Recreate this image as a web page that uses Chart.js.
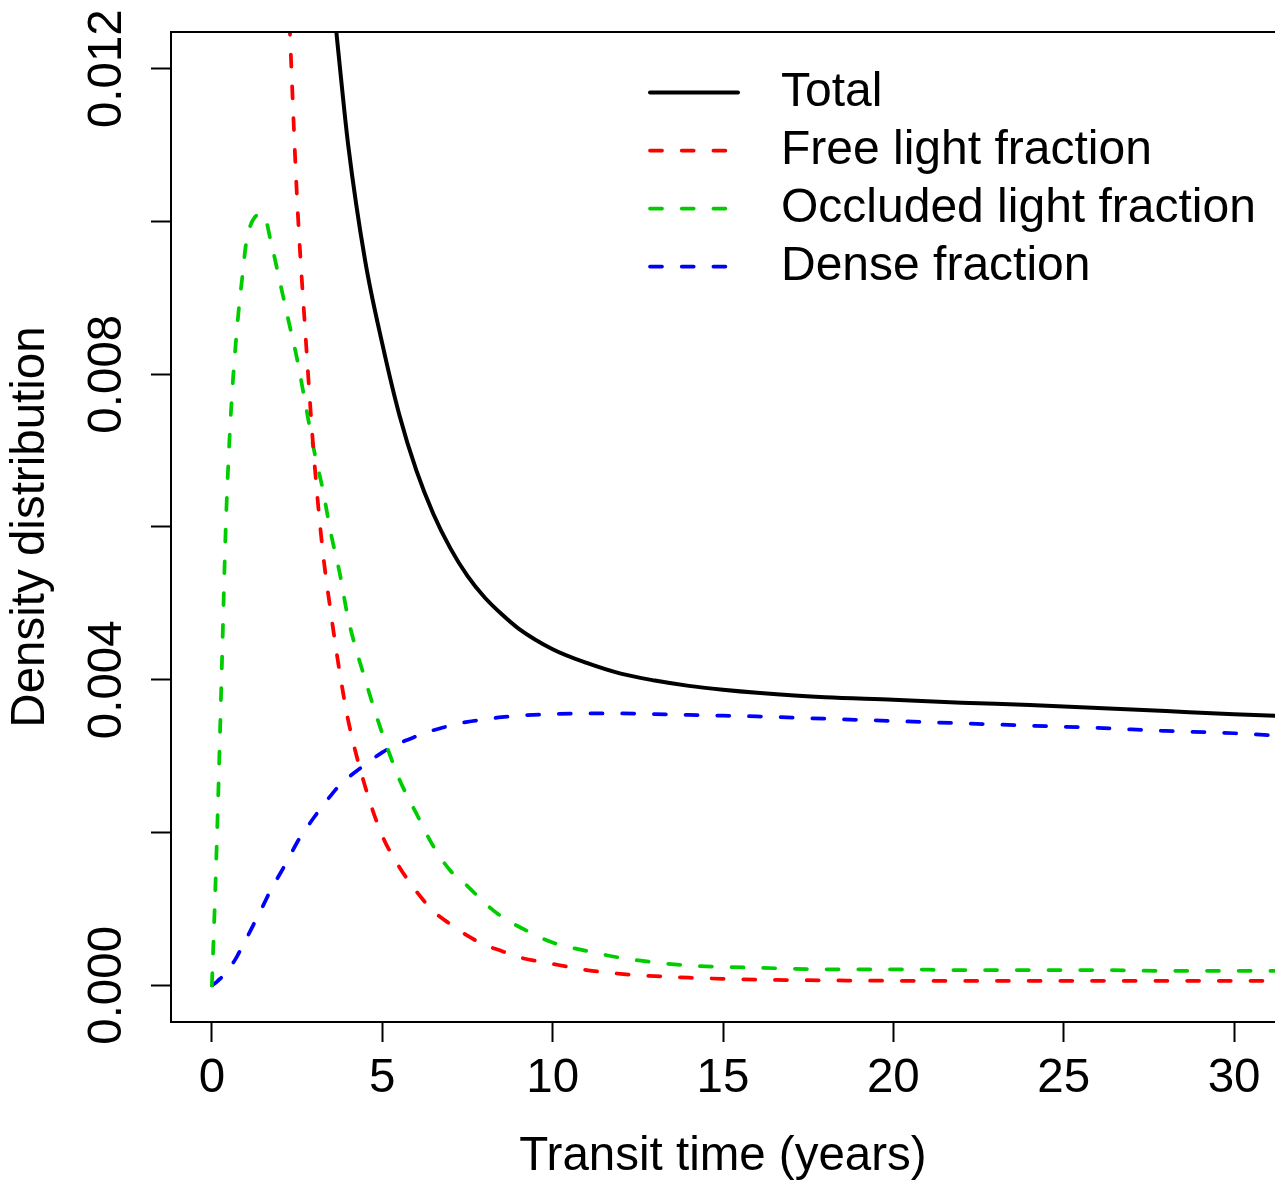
<!DOCTYPE html>
<html>
<head>
<meta charset="utf-8">
<script src="https://cdn.jsdelivr.net/npm/chart.js@4/dist/chart.umd.min.js"></script>
<style>
  html, body { margin: 0; padding: 0; background: #ffffff; }
  #wrap { width: 1275px; height: 1182px; position: relative; }
</style>
</head>
<body>
<div id="wrap"><canvas id="c"></canvas></div>
<script>
// Transit time grid (years) shared by all curves
const years = [0, 0.1, 0.2, 0.3, 0.4, 0.5, 0.6, 0.7, 0.8, 0.9, 1.0, 1.25, 1.5, 1.75, 2.0, 2.25, 2.5, 2.75,
  3.0, 3.25, 3.5, 3.75, 4.0, 4.5, 5.0, 5.5, 6.0, 6.5, 7.0, 7.5, 8.0, 8.5, 9.0, 10, 11, 12, 13, 14, 15, 16,
  18, 20, 22, 24, 26, 28, 30, 31.2];

// Density of the whole soil (sum of the three fractions); off the top of the axis early on
const total = [null, null, null, null, null, null, null, null, null, null, null, null, null, null, null, null, null, null,
  null, 0.0146, 0.0132, 0.01205, 0.0110, 0.00948, 0.0084, 0.00747, 0.00674, 0.00617, 0.00572, 0.00536, 0.00508, 0.00486, 0.00467, 0.0044, 0.00422, 0.00408, 0.00399, 0.00392, 0.00387, 0.00383,
  0.00377, 0.00374, 0.0037, 0.00367, 0.00363, 0.00359, 0.00355, 0.00353];

const freeLight = [null, null, null, null, null, null, null, null, null, null, null, null, null, null, 0.0155, 0.0129, 0.0103, 0.0085,
  0.0069, 0.0057, 0.00485, 0.0041, 0.00347, 0.0026, 0.00196, 0.00155, 0.00123, 0.00097, 0.0008, 0.00065, 0.00053, 0.00045, 0.00037, 0.00028, 0.0002, 0.00015, 0.00012, 0.0001, 0.000085, 0.000075,
  0.000065, 0.00006, 0.00006, 0.00006, 0.00006, 0.00006, 0.00006, 0.00006];

const occludedLight = [0, 0.00125, 0.0027, 0.0043, 0.0059, 0.0070, 0.0078, 0.0084, 0.0089, 0.0093, 0.0097, 0.01005, 0.0101, 0.0097, 0.0092, 0.0087, 0.0082, 0.0076,
  0.0070, 0.0065, 0.0059, 0.0054, 0.0048, 0.0040, 0.0033, 0.0027, 0.00225, 0.00182, 0.0015, 0.0013, 0.00108, 0.0009, 0.00077, 0.00056, 0.00045, 0.00036, 0.0003, 0.00026, 0.00024, 0.00023,
  0.00021, 0.00021, 0.0002, 0.0002, 0.0002, 0.00019, 0.00019, 0.00019];

const dense = [0, 0.00003, 0.00007, 0.00011, 0.00016, 0.00022, 0.00028, 0.00035, 0.00043, 0.00051, 0.0006, 0.00082, 0.00104, 0.00127, 0.00146, 0.00166, 0.00187, 0.00204,
  0.0022, 0.00235, 0.00249, 0.00262, 0.00272, 0.00289, 0.00305, 0.00317, 0.00326, 0.00334, 0.0034, 0.00345, 0.00348, 0.00351, 0.00353, 0.00355, 0.00356, 0.00356, 0.00355, 0.00354, 0.00353, 0.00352,
  0.00349, 0.00346, 0.00343, 0.0034, 0.00337, 0.00333, 0.0033, 0.00327];

const seriesNames = ['Total', 'Free light fraction', 'Occluded light fraction', 'Dense fraction'];
const seriesColors = ['#000000', '#ff0000', '#00cd00', '#0000ff'];

const xTicks = [0, 5, 10, 15, 20, 25, 30];
const yTicks = [0, 0.002, 0.004, 0.006, 0.008, 0.010, 0.012];
const yLabelled = [0, 0.004, 0.008, 0.012];

const FONT = 'Liberation Sans, Arial, Helvetica, sans-serif';
const FS = 47.5;
const LEGEND_FS = 48;
const DASH = [12, 19.7];

function points(values) {
  return years.map((x, i) => ({ x: x, y: values[i] }));
}

const seriesValues = [total, freeLight, occludedLight, dense];
const datasets = seriesValues.map((vals, i) => ({
  label: seriesNames[i],
  data: points(vals),
  borderColor: seriesColors[i],
  backgroundColor: seriesColors[i],
  borderWidth: i === 0 ? 4 : 3.75,
  borderDash: i === 0 ? [] : DASH,
  borderCapStyle: 'round',
  borderJoinStyle: 'round',
  pointRadius: 0,
  fill: false,
  spanGaps: false,
  cubicInterpolationMode: 'monotone',
  clip: 0
}));

// Top edge of the plot frame and the legend block in the upper right
const frameAndLegend = {
  id: 'frameAndLegend',
  afterDraw(chart) {
    const ctx = chart.ctx;
    const a = chart.chartArea;
    ctx.save();
    ctx.strokeStyle = '#000';
    ctx.lineWidth = 2;
    ctx.beginPath();
    ctx.moveTo(a.left - 1, a.top);
    ctx.lineTo(a.right, a.top);
    ctx.stroke();

    const x0 = 650, x1 = 738, tx = 781, y0 = 92.5, step = 58;
    ctx.font = LEGEND_FS + 'px ' + FONT;
    ctx.textAlign = 'left';
    ctx.textBaseline = 'middle';
    chart.data.datasets.forEach((ds, i) => {
      const y = y0 + i * step;
      ctx.strokeStyle = ds.borderColor;
      ctx.lineWidth = ds.borderWidth;
      ctx.lineCap = 'round';
      ctx.setLineDash(ds.borderDash || []);
      ctx.beginPath();
      ctx.moveTo(x0, y);
      ctx.lineTo(x1, y);
      ctx.stroke();
      ctx.setLineDash([]);
      ctx.fillStyle = '#000';
      ctx.fillText(ds.label, tx, y);
    });
    ctx.restore();
  }
};

new Chart(document.getElementById('c'), {
  type: 'line',
  data: { datasets: datasets },
  options: {
    animation: false,
    responsive: true,
    maintainAspectRatio: false,
    layout: { padding: { top: 32, right: 0, bottom: 0, left: 0 } },
    plugins: { legend: { display: false }, tooltip: { enabled: false } },
    scales: {
      x: {
        type: 'linear',
        min: -1.2,
        max: 31.2,
        afterBuildTicks: (s) => { s.ticks = xTicks.map(v => ({ value: v })); },
        afterFit: (s) => { s.height = 160; },
        grid: { drawOnChartArea: false, drawTicks: true, tickLength: 20, tickWidth: 2, tickColor: '#000' },
        border: { display: true, color: '#000', width: 2 },
        ticks: {
          color: '#000', font: { family: FONT, size: FS }, padding: 8,
          maxRotation: 0, minRotation: 0, autoSkip: false,
          callback: (v) => String(v)
        },
        title: {
          display: true, text: 'Transit time (years)', color: '#000',
          font: { family: FONT, size: FS }, padding: { top: 0, bottom: -3 }
        }
      },
      y: {
        type: 'linear',
        min: -0.00048,
        max: 0.01248,
        afterBuildTicks: (s) => { s.ticks = yTicks.map(v => ({ value: v })); },
        afterFit: (s) => { s.width = 171; },
        grid: { drawOnChartArea: false, drawTicks: true, tickLength: 20, tickWidth: 2, tickColor: '#000' },
        border: { display: true, color: '#000', width: 2 },
        ticks: {
          color: '#000', font: { family: FONT, size: FS }, padding: -16.4,
          minRotation: 90, maxRotation: 90, autoSkip: false, crossAlign: 'center',
          callback: (v) => (yLabelled.some(t => Math.abs(t - v) < 1e-9) ? v.toFixed(3) : '')
        },
        title: {
          display: true, text: 'Density distribution', color: '#000',
          font: { family: FONT, size: FS }, padding: { top: 2, bottom: 0 }
        }
      }
    }
  },
  plugins: [frameAndLegend]
});
</script>
</body>
</html>
